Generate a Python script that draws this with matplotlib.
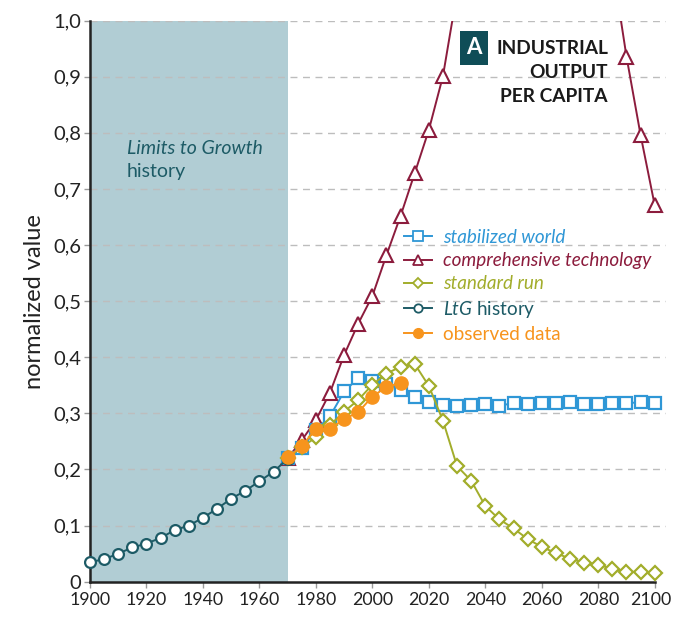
import numpy as np
import matplotlib
matplotlib.use("Agg")
import matplotlib.pyplot as plt
import matplotlib.transforms as mtransforms
from matplotlib.lines import Line2D

plt.rcParams['font.family'] = ['Lato', 'DejaVu Sans']
plt.rcParams['mathtext.fontset'] = 'custom'
plt.rcParams['mathtext.it'] = 'Lato:italic'
plt.rcParams['mathtext.rm'] = 'Lato'

# ---------------- data ----------------
hist_years = list(range(1900, 1971, 5))
hist_vals = [0.035, 0.040, 0.050, 0.061, 0.068, 0.078, 0.092, 0.100,
             0.114, 0.130, 0.148, 0.162, 0.179, 0.196, 0.219]

sim_years = list(range(1970, 2101, 5))
stab_vals = [0.220, 0.238, 0.270, 0.295, 0.339, 0.363, 0.357, 0.353, 0.342,
             0.330, 0.320, 0.315, 0.314, 0.315, 0.317, 0.314, 0.318, 0.317,
             0.318, 0.318, 0.320, 0.317, 0.317, 0.318, 0.318, 0.320, 0.318]
std_vals = [0.220, 0.240, 0.257, 0.279, 0.303, 0.324, 0.351, 0.371, 0.383,
            0.388, 0.349, 0.287, 0.206, 0.180, 0.135, 0.111, 0.095, 0.076,
            0.062, 0.051, 0.041, 0.034, 0.030, 0.023, 0.018, 0.017, 0.015]
tech_vals = [0.220, 0.252, 0.288, 0.337, 0.404, 0.460, 0.509, 0.582, 0.652,
             0.728, 0.805, 0.901, 1.050, None, None, None, None, None,
             None, None, None, None, None, 1.100, 0.936, 0.796, 0.671]

obs_years = list(range(1970, 2011, 5))
obs_vals = [0.222, 0.241, 0.273, 0.272, 0.290, 0.302, 0.330, 0.347, 0.354]

yticks = [0, 0.1, 0.2, 0.3, 0.4, 0.5, 0.6, 0.7, 0.8, 0.9, 1.0]
ytick_labels = ['0', '0,1', '0,2', '0,3', '0,4', '0,5', '0,6', '0,7', '0,8', '0,9', '1,0']
xticks = list(range(1900, 2101, 20))

# ---------------- colours ----------------
c_shade = '#b1cdd4'
c_hist = '#1d5b66'
c_stab = '#2f97d6'
c_tech = '#8c1c3d'
c_std = '#a2ad2b'
c_obs = '#f7941d'
c_grid = '#bdbdbd'

fig = plt.figure(figsize=(6.75, 6.21), dpi=100)
ax = fig.add_axes([90/675, 39.3/621, 576/675, 561.1/621])
ax.set_xlim(1900, 2104)
ax.set_ylim(0, 1.0)

ax.axvspan(1900, 1970, color=c_shade, zorder=0.2, lw=0)

for yv in yticks[1:]:
    ax.axhline(yv, color=c_grid, lw=1.0, ls=(0, (5, 4)), zorder=0.5)

lw = 1.4
tech_arr = np.array([np.nan if v is None else v for v in tech_vals], dtype=float)
ax.plot(sim_years, tech_arr, color=c_tech, lw=lw, marker='^', ms=9.5,
        mfc='white', mec=c_tech, mew=1.5, zorder=3)
ax.plot(sim_years, std_vals, color=c_std, lw=lw, marker='D', ms=7.2,
        mfc='white', mec=c_std, mew=1.6, zorder=3.2)
ax.plot(sim_years, stab_vals, color=c_stab, lw=lw, marker='s', ms=8.3,
        mfc='white', mec=c_stab, mew=1.6, zorder=3.1, clip_on=False)
ax.plot(obs_years, obs_vals, color=c_obs, lw=lw, marker='o', ms=9.5,
        mfc=c_obs, mec=c_obs, zorder=4)
ax.plot(hist_years, hist_vals, color=c_hist, lw=lw, marker='o', ms=7.8,
        mfc='white', mec=c_hist, mew=1.6, zorder=3.5, clip_on=False)

# axes styling
for s in ['top', 'right']:
    ax.spines[s].set_visible(False)
ax.spines['left'].set_linewidth(1.8)
ax.spines['bottom'].set_linewidth(1.8)
ax.spines['left'].set_color('#222222')
ax.spines['bottom'].set_color('#222222')
ax.spines['bottom'].set_bounds(1900, 2100)
ax.spines['left'].set_zorder(2.5)

ax.set_yticks(yticks)
ax.set_yticklabels(ytick_labels)
ax.set_xticks(xticks)
ax.tick_params(axis='both', direction='out', length=4.5, width=1,
               color='#999999', labelcolor='#222222', pad=2)
ax.tick_params(axis='y', labelsize=14.5)
ax.tick_params(axis='x', labelsize=12.8, pad=3)
ax.set_ylabel('normalized value', fontsize=17, color='#222222', labelpad=6)

# nudge last x label so it stays inside the canvas
last = ax.get_xticklabels()[-1]
last.set_transform(last.get_transform() +
                   mtransforms.ScaledTranslation(-3/72, 0, fig.dpi_scale_trans))

# text annotations
ax.text(1913, 0.772, 'Limits to Growth', fontsize=14, style='italic',
        color=c_hist, ha='left', va='center')
ax.text(1913, 0.731, 'history', fontsize=14, color=c_hist,
        ha='left', va='center')

tx = 608 / 675
for txt, yy in [('INDUSTRIAL', 48), ('OUTPUT', 72), ('PER CAPITA', 96)]:
    fig.text(tx, 1 - yy / 621, txt, fontsize=13.8, weight='bold',
             color='#1a1a1a', ha='right', va='center')
fig.text(474/675, 1 - 48/621, 'A', fontsize=16, weight='bold', color='white',
         ha='center', va='center',
         bbox=dict(boxstyle='square,pad=0.3', fc='#0f4d57', ec='none'))

# legend
handles = [
    Line2D([], [], color=c_stab, lw=lw, marker='s', ms=7, mfc='white', mec=c_stab, mew=1.3),
    Line2D([], [], color=c_tech, lw=lw, marker='^', ms=7, mfc='white', mec=c_tech, mew=1.3),
    Line2D([], [], color=c_std, lw=lw, marker='D', ms=5, mfc='white', mec=c_std, mew=1.3),
    Line2D([], [], color=c_hist, lw=lw, marker='o', ms=6, mfc='white', mec=c_hist, mew=1.3),
    Line2D([], [], color=c_obs, lw=lw, marker='o', ms=7, mfc=c_obs, mec=c_obs),
]
labels = ['stabilized world', 'comprehensive technology', 'standard run',
          r'$\mathit{LtG}$ history', 'observed data']
leg = ax.legend(handles, labels, loc='upper left',
                bbox_to_anchor=((404 - 90) / 576, (581.7 - 229) / 561.1),
                frameon=False, fontsize=13.6, handlelength=1.5, handletextpad=0.55,
                labelspacing=0.33, borderaxespad=0, borderpad=0)
leg_colors = [c_stab, c_tech, c_std, c_hist, c_obs]
leg_styles = ['italic', 'italic', 'italic', 'normal', 'normal']
for t, c, st in zip(leg.get_texts(), leg_colors, leg_styles):
    t.set_color(c)
    t.set_style(st)
leg.set_zorder(6)

fig.savefig('out.png', dpi=100)
